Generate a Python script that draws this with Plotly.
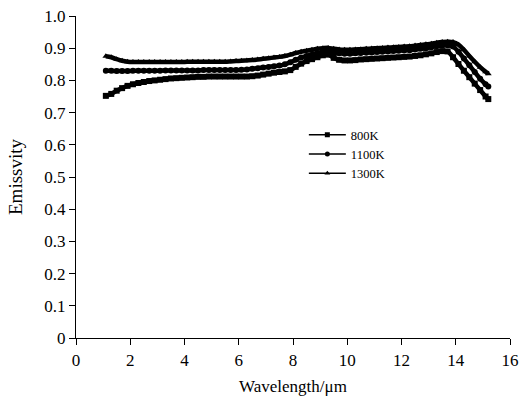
import plotly.graph_objects as go

wavelength = [1.1, 1.3, 1.5, 1.7, 1.9, 2.1, 2.3, 2.5, 2.7, 2.9, 3.1, 3.3, 3.5, 3.7, 3.9,
              4.1, 4.3, 4.5, 4.7, 4.9, 5.1, 5.3, 5.5, 5.7, 5.9, 6.1, 6.3, 6.5, 6.7, 6.9,
              7.1, 7.3, 7.5, 7.7, 7.9, 8.1, 8.3, 8.5, 8.7, 8.9, 9.1, 9.3, 9.5, 9.7, 9.9,
              10.1, 10.3, 10.5, 10.7, 10.9, 11.1, 11.3, 11.5, 11.7, 11.9, 12.1, 12.3, 12.5,
              12.7, 12.9, 13.1, 13.3, 13.5, 13.7, 13.9, 14.1, 14.3, 14.5, 14.7, 14.9, 15.1, 15.2]

e_800K = [0.752, 0.758, 0.768, 0.776, 0.783, 0.788, 0.792, 0.795, 0.798, 0.800, 0.802, 0.804,
          0.806, 0.807, 0.808, 0.809, 0.810, 0.811, 0.811, 0.812, 0.812, 0.812, 0.812, 0.812,
          0.812, 0.812, 0.812, 0.813, 0.815, 0.818, 0.821, 0.824, 0.826, 0.828, 0.832, 0.842,
          0.852, 0.860, 0.866, 0.872, 0.878, 0.880, 0.870, 0.864, 0.862, 0.862, 0.863, 0.865,
          0.866, 0.867, 0.868, 0.869, 0.870, 0.871, 0.872, 0.873, 0.874, 0.876, 0.878, 0.881,
          0.884, 0.888, 0.891, 0.890, 0.872, 0.851, 0.830, 0.810, 0.790, 0.770, 0.750, 0.742]

e_1100K = [0.830, 0.830, 0.829, 0.829, 0.829, 0.830, 0.830, 0.830, 0.830, 0.830, 0.830, 0.831,
           0.831, 0.831, 0.831, 0.831, 0.831, 0.831, 0.832, 0.832, 0.832, 0.832, 0.832, 0.832,
           0.832, 0.833, 0.834, 0.836, 0.838, 0.840, 0.842, 0.844, 0.846, 0.850, 0.856, 0.864,
           0.871, 0.876, 0.880, 0.884, 0.888, 0.890, 0.887, 0.884, 0.883, 0.883, 0.884, 0.885,
           0.886, 0.887, 0.888, 0.889, 0.890, 0.891, 0.892, 0.893, 0.894, 0.896, 0.898, 0.900,
           0.903, 0.906, 0.908, 0.909, 0.905, 0.889, 0.868, 0.847, 0.826, 0.805, 0.788, 0.781]

e_1300K = [0.875, 0.872, 0.866, 0.861, 0.858, 0.857, 0.857, 0.857, 0.857, 0.857, 0.857, 0.857,
           0.857, 0.857, 0.857, 0.858, 0.858, 0.858, 0.858, 0.858, 0.858, 0.858, 0.858, 0.859,
           0.860, 0.861, 0.862, 0.863, 0.865, 0.867, 0.869, 0.871, 0.873, 0.876, 0.880, 0.885,
           0.889, 0.892, 0.895, 0.898, 0.900, 0.901, 0.898, 0.896, 0.895, 0.895, 0.896, 0.897,
           0.898, 0.899, 0.900, 0.901, 0.902, 0.903, 0.904, 0.905, 0.906, 0.908, 0.910, 0.912,
           0.914, 0.917, 0.919, 0.920, 0.919, 0.911, 0.895, 0.876, 0.858, 0.841, 0.827, 0.821]

series = [("800K", e_800K, "square"), ("1100K", e_1100K, "circle"), ("1300K", e_1300K, "triangle-up")]

FONT = "Liberation Serif"
fig = go.Figure()
for name, vals, sym in series:
    fig.add_trace(go.Scatter(
        x=wavelength, y=vals, name=name, mode="lines+markers", showlegend=False,
        line=dict(color="black", width=4.5, shape="spline"),
        marker=dict(symbol=sym, size=6, color="black"),
    ))
# legend samples (thin line, small marker) like the reference key
for name, vals, sym in series:
    fig.add_trace(go.Scatter(
        x=[None], y=[None], name=name, mode="lines+markers",
        line=dict(color="black", width=1.5),
        marker=dict(symbol=sym, size=5, color="black"),
    ))

fig.update_layout(
    width=523, height=397,
    margin=dict(l=76, r=13, t=16, b=59),
    paper_bgcolor="white", plot_bgcolor="white",
    font=dict(family=FONT, size=17, color="black"),
    showlegend=True,
    legend=dict(x=0.525, y=0.677, xanchor="left", yanchor="top",
                bgcolor="rgba(0,0,0,0)", font=dict(family=FONT, size=12.5),
                tracegroupgap=0, itemwidth=37),
)
fig.update_xaxes(
    range=[0, 16], tickmode="array", tickvals=[0, 2, 4, 6, 8, 10, 12, 14, 16],
    ticktext=["0", "2", "4", "6", "8", "10", "12", "14", "16"],
    showline=True, linecolor="black", linewidth=1.2, ticks="outside", ticklen=6,
    tickcolor="black", showgrid=False, zeroline=False, automargin=False,
    title=dict(text="Wavelength/μm", font=dict(family=FONT, size=17), standoff=11),
)
fig.update_yaxes(
    range=[0, 1], tickmode="array",
    tickvals=[0, 0.1, 0.2, 0.3, 0.4, 0.5, 0.6, 0.7, 0.8, 0.9, 1.0],
    ticktext=["0", "0.1", "0.2", "0.3", "0.4", "0.5", "0.6", "0.7", "0.8", "0.9", "1.0"],
    showline=True, linecolor="black", linewidth=1.2, ticks="outside", ticklen=6,
    tickcolor="black", showgrid=False, zeroline=False, automargin=False,
    title=dict(text="Emissvity", font=dict(family=FONT, size=19), standoff=16),
)
fig.write_html("out.html")
